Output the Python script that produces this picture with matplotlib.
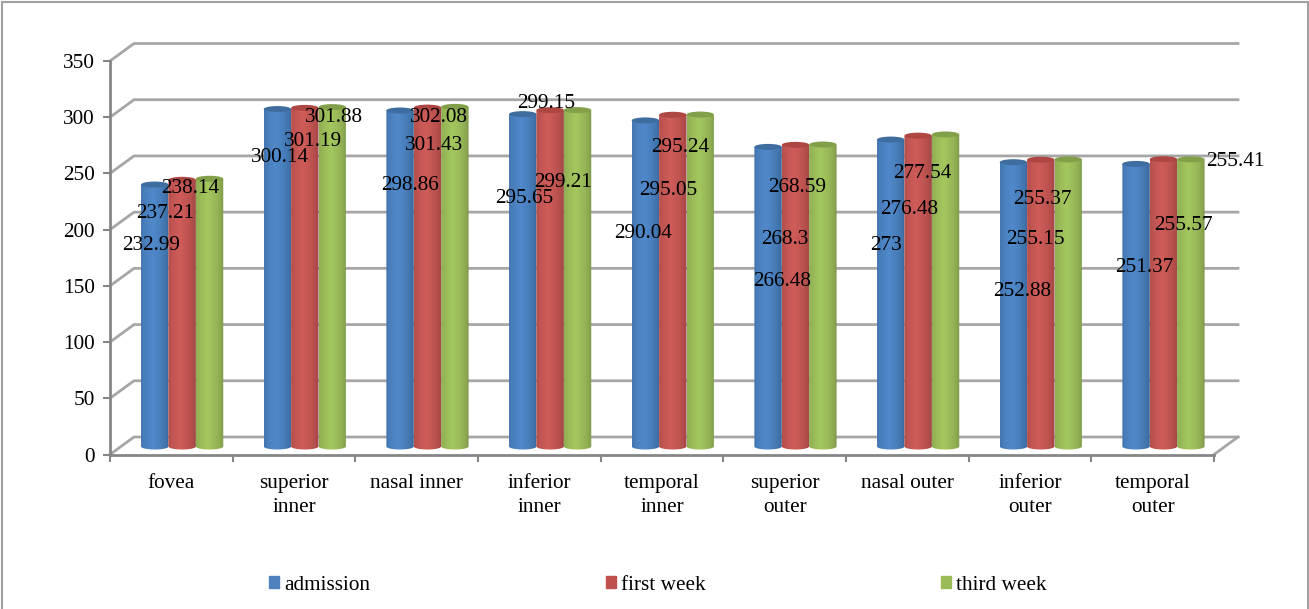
#!/bin/python3

import numpy as np
import matplotlib
matplotlib.use('Agg')
import matplotlib.pyplot as plt
from matplotlib.colors import to_rgb
from matplotlib.patches import Polygon, Ellipse, Patch, Rectangle

plt.rcParams['font.family'] = ['Liberation Serif', 'DejaVu Serif']

categories = ['fovea', 'superior\ninner', 'nasal inner', 'inferior\ninner', 'temporal\ninner',
              'superior\nouter', 'nasal outer', 'inferior\nouter', 'temporal\nouter']
admission = [232.99, 300.14, 298.86, 295.65, 290.04, 266.48, 273, 252.88, 251.37]
first_week = [237.21, 301.19, 301.43, 299.15, 295.05, 268.3, 276.48, 255.15, 255.57]
third_week = [238.14, 301.88, 302.08, 299.21, 295.24, 268.59, 277.54, 255.37, 255.41]
value_labels = [['232.99', '300.14', '298.86', '295.65', '290.04', '266.48', '273', '252.88', '251.37'],
                ['237.21', '301.19', '301.43', '299.15', '295.05', '268.3', '276.48', '255.15', '255.57'],
                ['238.14', '301.88', '302.08', '299.21', '295.24', '268.59', '277.54', '255.37', '255.41']]
series_names = ['admission', 'first week', 'third week']
y_ticks = [0, 50, 100, 150, 200, 250, 300, 350]

# layout, all in pixels of the 1309x609 picture
W, H = 1309, 609
X0, X1, Y0, Y350 = 110, 1214, 454.5, 61
FONT = 15.3
GRID = '#A6A6A6'

# where the data labels sit (they do not follow the bars in the original)
label_px = [[(151, 246), (280, 158), (410, 185), (524, 199), (643, 233), (782, 282), (886, 246), (1022, 291), (1144, 268)],
            [(165, 213), (313, 141), (434, 146), (546, 104), (668, 191), (785, 240), (909, 209), (1035, 240), (1183, 226)],
            [(190, 188), (334, 118), (439, 118), (563, 182), (680, 148), (797, 187), (922, 174), (1042, 200), (1235, 161)]]

# center, edge colours of each cylinder and colour of its lid
colors = [('#5089CB', '#33608F', '#3F6D9F'),
          ('#CF5C59', '#94403D', '#AE4744'),
          ('#A4C75E', '#748D45', '#82A04A')]
legend_colors = ['#4F81BD', '#C0504D', '#9BBB59']

fig = plt.figure(figsize=(W / 100, H / 100), dpi=100)
ax = fig.add_axes([X0 / W, 1 - Y0 / H, (X1 - X0) / W, (Y0 - Y350) / H])
ax.set_xlim(0, 9)
ax.set_ylim(0, 350)

px_x = 9 / (X1 - X0)
px_y = 350 / (Y0 - Y350)

# back wall, side wall and floor
back_dx, back_dy = 24 * px_x, 17.5 * px_y
for v in y_ticks:
    ax.plot([0, back_dx, 9 + back_dx], [v, v + back_dy, v + back_dy], color=GRID, lw=2,
            clip_on=False, zorder=1, solid_joinstyle='miter')
ax.plot([9, 9 + back_dx], [0, back_dy], color=GRID, lw=2, clip_on=False, zorder=1)

# cylinders
bar_w = 27.4 * px_x
shift_x, shift_y = 10.8 * px_x, 8 * px_y
ell_h = 6 * px_y
gradient = np.linspace(0, 1, 64)
theta = np.linspace(0, np.pi, 40)
for s, values in enumerate([admission, first_week, third_week]):
    center, edge, lid = colors[s]
    c0 = np.array(to_rgb(edge))
    c1 = np.array(to_rgb(center))
    shade = np.clip(1 - np.abs(gradient - 0.42) / 0.58, 0, 1) ** 0.45
    strip = c0[None, :] + (c1 - c0)[None, :] * shade[:, None]
    strip = strip[None, :, :]
    for i, v in enumerate(values):
        xc = i + 0.5 + shift_x + (s - 1) * bar_w
        left, right = xc - bar_w / 2, xc + bar_w / 2
        base = shift_y
        top = v + shift_y
        xs = np.concatenate([xc - np.cos(theta) * bar_w / 2, [right, left]])
        ys = np.concatenate([base - np.sin(theta) * ell_h / 2, [top, top]])
        body = Polygon(np.column_stack([xs, ys]), closed=True, transform=ax.transData)
        im = ax.imshow(strip, extent=[left, right, base - ell_h, top], aspect='auto',
                       interpolation='bilinear', zorder=2 + s * 0.1)
        im.set_clip_path(body)
        ax.add_patch(Ellipse((xc, top), bar_w, ell_h, facecolor=lid, edgecolor='none',
                             zorder=2.05 + s * 0.1, clip_on=False))

ax.set_xlim(0, 9)
ax.set_ylim(0, 350)

# data labels
for s in range(3):
    for i in range(9):
        x, y = label_px[s][i]
        fig.text(x / W, 1 - y / H, value_labels[s][i], fontsize=FONT, ha='center', va='center',
                 color='black', zorder=5)

# axes
for name in ['top', 'right']:
    ax.spines[name].set_visible(False)
for name in ['left', 'bottom']:
    ax.spines[name].set_color('#868686')
    ax.spines[name].set_linewidth(2)
    ax.spines[name].set_zorder(1.5)
ax.set_yticks(y_ticks)
ax.set_xticks(range(10))
ax.set_xticklabels([])
ax.set_xticks(np.arange(9) + 0.5, categories, minor=True)
ax.tick_params(axis='x', which='major', length=5, width=1.5, color='#868686')
ax.tick_params(axis='x', which='minor', length=0, pad=14, labelsize=FONT)
for label in ax.get_xminorticklabels():
    label.set_linespacing(1.36)
ax.tick_params(axis='y', length=5, width=1.5, color='#868686', pad=6, labelsize=FONT)
for label in ax.get_yticklabels():
    label.set_verticalalignment('center_baseline')

# legend
handles = [Patch(color=c, label=n) for c, n in zip(legend_colors, series_names)]
fig.legend(handles=handles, ncol=3, loc='center', bbox_to_anchor=(658 / W, 1 - 585 / H),
           frameon=False, fontsize=FONT, handlelength=0.45, handleheight=0.5, handletextpad=0.25,
           columnspacing=11.1)

# chart frame
fig.add_artist(Rectangle((1.5 / W, -0.01), (W - 3) / W, 1 - 1.5 / H + 0.01, transform=fig.transFigure,
                         fill=False, edgecolor='#A0A0A0', lw=1.5))

fig.savefig('out.png', dpi=100)
